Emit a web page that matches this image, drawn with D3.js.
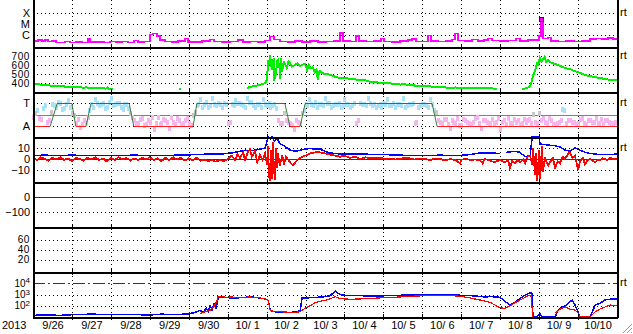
<!DOCTYPE html>
<html>
<head>
<meta charset="utf-8">
<script src="https://cdn.jsdelivr.net/npm/d3@7"></script>
<style>
body { margin: 0; background: #fff; }
svg { display: block; font-family: "Liberation Sans", Arial, sans-serif; }
</style>
</head>
<body>
<script>
// ---- données (jour = jours depuis 2013-09-26 00:00)
const yearLabel = '2013'
const dayLabels = ['9/26', '9/27', '9/28', '9/29', '9/30', '10/ 1', '10/ 2', '10/ 3', '10/ 4', '10/ 5', '10/ 6', '10/ 7', '10/ 8', '10/ 9', '10/10']

const xrayTickVals = [1e-4, 1e-5, 1e-6]
const xrayTickNames = ['X', 'M', 'C']
const speedTicks = [700, 600, 500, 400]
const sectorTickVals = [315, 135]
const sectorTickNames = ['T', 'A']
const imfTicks = [10, 0, -10]
const dstTicks = [0, -100]
const p6Ticks = [60, 40, 20]
const elecTicks = [1e4, 1e3, 1e2]

const xray = [[0, 3.0e-7], [0.13, 3.5e-7], [0.23, 2.8e-7], [0.31, 3.5e-7], [0.39, 2.5e-7], [0.49, 3.0e-7], [0.59, 2.0e-7], [0.69, 2.1e-7], [0.82, 2.6e-7], [0.95, 2.0e-7],
  [1.1, 2.3e-7], [1.26, 2.0e-7], [1.41, 4.5e-7], [1.46, 2.2e-7], [1.62, 2.4e-7], [1.82, 2.0e-7], [1.98, 2.6e-7], [2.13, 2.2e-7], [2.29, 2.5e-7], [2.44, 2.0e-7],
  [2.59, 3.2e-7], [2.7, 2.2e-7], [2.85, 2.6e-7], [3.0, 1.1e-6], [3.08, 1.3e-6], [3.18, 8e-7], [3.26, 3.5e-7], [3.39, 2.5e-7], [3.57, 2.2e-7], [3.72, 3.0e-7],
  [3.9, 5e-7], [3.98, 2.4e-7], [4.16, 2.2e-7], [4.34, 2.8e-7], [4.55, 4e-7], [4.65, 2.5e-7], [4.85, 2.2e-7], [5.06, 2.6e-7], [5.27, 3.5e-7], [5.39, 2.3e-7],
  [5.57, 2.6e-7], [5.78, 2.3e-7], [5.96, 3.2e-7], [6.09, 7e-7], [6.19, 4e-7], [6.34, 2.6e-7], [6.55, 2.3e-7], [6.73, 3.0e-7], [6.91, 2.4e-7], [7.12, 2.8e-7],
  [7.32, 2.3e-7], [7.53, 2.6e-7], [7.73, 3.0e-7], [7.89, 1.5e-6], [7.96, 3.0e-7], [8.14, 2.6e-7], [8.3, 8e-7], [8.37, 3.0e-7], [8.55, 2.5e-7], [8.76, 2.8e-7],
  [8.94, 5e-7], [9.02, 2.6e-7], [9.22, 2.4e-7], [9.43, 2.8e-7], [9.63, 3.5e-7], [9.74, 4.5e-7], [9.84, 2.6e-7], [10.04, 2.5e-7], [10.15, 9e-7], [10.22, 3.0e-7],
  [10.4, 2.6e-7], [10.61, 3.0e-7], [10.76, 4e-7], [10.84, 1.3e-6], [10.92, 3.2e-7], [11.1, 2.8e-7], [11.28, 4e-7], [11.43, 3.0e-7], [11.59, 3.4e-7], [11.69, 5e-7],
  [11.79, 3.2e-7], [12.0, 2.8e-7], [12.2, 3.2e-7], [12.41, 5e-7], [12.51, 3.0e-7], [12.71, 3.4e-7], [12.92, 3.6e-7], [13.0, 8e-7], [13.05, 2.8e-5], [13.1, 5e-7],
  [13.23, 6e-7], [13.31, 3.0e-7], [13.49, 2.6e-7], [13.69, 3.0e-7], [13.9, 2.7e-7], [14.1, 3.0e-7], [14.31, 4.5e-7], [14.46, 5e-7], [14.62, 4.2e-7], [14.77, 5.2e-7],
  [14.9, 4.5e-7], [15.0, 4.8e-7]]
const flares = [[13.05, 2.8e-5]]

const speed = [[0, 390], [0.07, 388], [0.14, 386], [0.22, 381], [0.29, 379], [0.36, 376], [0.43, 372], [0.5, 371], [0.58, 366], [0.65, 369], [0.72, 361],
  [0.79, 363], [0.86, 356], [0.94, 359], [1.01, 352], [1.08, 357], [1.15, 350], [1.22, 354], [1.3, 347], [1.37, 352], [1.44, 345], [1.51, 349], [1.58, 342],
  [1.66, 348], [1.73, 340], [1.8, 344], [1.87, 337], [1.91, 352], [1.94, 336], [2.0, 334], [2.06, 330], [2.08, null], [3.75, 332], [3.8, 334], [3.85, null],
  [5.5, 344], [5.57, 355], [5.7, 367], [5.83, 378], [5.96, 400], [6.01, 433], [6.04, 655], [6.06, 600], [6.09, 711], [6.11, 620], [6.14, 544], [6.16, 650],
  [6.19, 678], [6.2, 420], [6.22, 560], [6.24, 489], [6.27, 640], [6.29, 655], [6.32, 590], [6.34, 611], [6.35, 450], [6.37, 680], [6.4, 522], [6.42, 600],
  [6.45, 633], [6.5, 590], [6.52, 567], [6.56, 640], [6.6, 622], [6.65, 585], [6.73, 600], [6.8, 620], [6.86, 589], [6.92, 605], [6.99, 611], [7.04, 544],
  [7.08, 600], [7.12, 567], [7.18, 575], [7.24, 522], [7.28, 545], [7.32, 433], [7.34, 520], [7.37, 530], [7.43, 510], [7.5, 500], [7.56, 505], [7.63, 489],
  [7.7, 480], [7.76, 470], [7.89, 455], [8.0, 460], [8.14, 444], [8.27, 440], [8.4, 433], [8.5, 436], [8.66, 411], [8.78, 415], [8.91, 400], [9.05, 398],
  [9.17, 395], [9.3, 392], [9.43, 383], [9.55, 385], [9.68, 378], [9.8, 372], [9.94, 367], [10.07, 365], [10.2, 362], [10.32, 358], [10.45, 355], [10.6, 350],
  [10.71, 344], [10.85, 350], [10.97, 349], [11.1, 346], [11.23, 344], [11.35, 340], [11.48, 339], [11.6, 342], [11.74, 344], [11.85, 336], [11.92, 333],
  [11.95, null], [12.56, 333], [12.69, 344], [12.77, 367], [12.82, 433], [12.84, 478], [12.9, 544], [12.95, 633], [12.97, 589], [13.02, 678], [13.06, 640],
  [13.1, 667], [13.14, 690], [13.18, 633], [13.23, 655], [13.28, 633], [13.34, 620], [13.41, 611], [13.48, 600], [13.54, 589], [13.6, 578], [13.67, 567],
  [13.73, 560], [13.79, 556], [13.86, 540], [13.92, 533], [14.0, 520], [14.05, 511], [14.12, 500], [14.18, 489], [14.25, 482], [14.31, 478], [14.38, 470],
  [14.44, 467], [14.5, 460], [14.56, 455], [14.63, 450], [14.69, 444], [14.76, 440], [14.82, 433], [14.9, 436], [15.0, 433]]

// secteur IMF (T = 315, A = 135)
const sector = [[0, 135], [0.44, 135], [0.62, 315], [1.0, 315], [1.1, 135], [1.36, 135], [1.49, 315], [2.47, 315], [2.59, 135], [4.11, 135], [4.21, 315],
  [6.47, 315], [6.6, 135], [6.86, 135], [6.99, 315], [10.25, 315], [10.38, 135], [15.0, 135]]
// angle phi, deux mesures tous les 0.1 jour
const phi = [200, 250, 180, 290, 170, 300, 280, 310, 270, 330, 230, 150, 120, 170, 200,
  300, 340, 290, 310, 280, 350, 300, 310, 260, 300, 230,
  170, 150, 190, 140, 160, 100, 200, 150, 170, 110, 160, 190, 140, 170, 150, 210,
  290, 340, 300, 280, 350, 290, 300, 310, 150, 300, 330, 310, 290, 350, 320, 280, 300, 340, 290, 280, 300, 170, 150,
  170, 150, 100, 160, 230,
  300, 340, 290, 280, 300, 350, 310, 290, 300, 280, 340, 300, 290, 150, 310, 300, 350, 290, 280, 300,
  310, 340, 290, 280, 300, 350, 290, 300, 150, 280, 300, 290, 340, 250,
  170, 150, 180, 110, 160, 190, 130, 170, 150, 160, 200, 110, 170, 150, 180, 160, 100, 170, 190, 150,
  160, 140, 180, 170, 150, 160, 230, 190, 150, 170, 140, 160, 260, 150, 170, 160, 150, 190, 140, 170, 160, 150, 180, 170, 160, 150]
const phi2 = [230, 190, 270, 160, 240, 290, 320, 260, 300, 280, 210, 180, 140, 160, 250,
  280, 310, 300, 270, 320, 290, 310, 280, 300, 270, 200,
  150, 180, 130, 170, 200, 150, 140, 180, 160, 200, 140, 170, 150, 190, 130, 240,
  300, 280, 320, 290, 300, 310, 280, 300, 160, 290, 310, 300, 280, 320, 290, 300, 280, 300, 310, 290, 270, 150, 230,
  160, 130, 170, 150, 250,
  290, 300, 320, 300, 290, 310, 280, 300, 310, 290, 300, 280, 310, 170, 300, 290, 310, 300, 290, 280,
  300, 290, 310, 300, 290, 280, 300, 310, 160, 290, 300, 280, 300, 240,
  160, 180, 140, 170, 150, 130, 180, 160, 140, 190, 150, 170, 160, 140, 150, 190, 160, 140, 150, 180,
  170, 150, 160, 180, 220, 150, 170, 160, 190, 140, 150, 170, 250, 170, 160, 140, 180, 150, 170, 160, 190, 150, 140, 170, 150, 160]

const bt = [[0, 3], [0.3, 3.5], [0.6, 3], [1.0, 3.5], [1.4, 3], [1.8, 3.2], [2.2, 3], [2.6, 3.5], [3.0, 3], [3.4, 3.2], [3.8, 3.5], [4.2, 4], [4.55, 4.5],
  [4.8, 4.5], [5.01, 5], [5.19, 6], [5.32, 7], [5.45, 8], [5.57, 7.5], [5.7, 8], [5.83, 9], [5.96, 10], [6.04, 20], [6.1, 18], [6.14, 20], [6.2, 16], [6.27, 19],
  [6.34, 14], [6.4, 13], [6.45, 12], [6.6, 8], [6.76, 7], [6.86, 8], [6.99, 9], [7.12, 9.5], [7.24, 9], [7.37, 9], [7.5, 7], [7.63, 5.5], [7.89, 4.5], [8.14, 4.5],
  [8.4, 4.5], [8.66, 4.2], [8.91, 4], [9.17, 3.8], [9.43, 3.5], [9.68, 3], [9.94, 3], [10.2, 3], [10.45, 3.5], [10.71, 3], [10.97, 3.2], [11.23, 4], [11.48, 5.5],
  [11.74, 5.5], [12.0, 5], [12.05, null], [12.15, 6], [12.25, 6.5], [12.38, 7], [12.51, 6], [12.64, 2], [12.77, 3], [12.82, 20], [13.0, 20], [13.02, 14], [13.1, 13],
  [13.15, 13], [13.28, 12.5], [13.41, 12], [13.54, 11], [13.67, 8], [13.79, 7], [13.92, 10], [14.05, 8], [14.18, 6], [14.31, 5], [14.44, 4.5], [14.56, 4],
  [14.69, 4], [14.82, 4], [15.0, 4.5]]
const bz = [[0, 1], [0.1, -1], [0.2, 1.5], [0.3, 0], [0.4, -1.5], [0.5, 1], [0.6, -0.5], [0.7, 1.5], [0.8, -1], [0.9, 0.5], [1.0, -2], [1.1, 1], [1.2, 0],
  [1.3, -1.5], [1.4, 1], [1.5, -0.5], [1.6, 1.5], [1.7, -1], [1.8, 0.5], [1.9, -2.5], [2.0, 1], [2.1, -1], [2.2, 1.5], [2.3, -0.5], [2.4, 1], [2.5, -1.5],
  [2.6, 0.5], [2.7, -1], [2.8, 1], [2.9, -0.5], [3.0, 1.5], [3.1, -1], [3.2, 0.5], [3.3, -2], [3.4, 1], [3.5, -1], [3.6, 1.5], [3.7, -0.5], [3.8, 1], [3.9, -1.5],
  [4.0, 0.5], [4.1, -1], [4.2, 1], [4.3, -1.5], [4.4, -0.5], [4.5, -2], [4.6, -1], [4.7, -2.5], [4.8, -1], [4.9, -2], [5.0, 0], [5.1, 3], [5.19, -1], [5.25, 4],
  [5.32, 1], [5.4, 6], [5.45, -2], [5.5, 5], [5.57, 9], [5.62, 2], [5.7, 7], [5.76, -3], [5.83, 4], [5.9, -1], [5.96, 5], [6.01, -5], [6.04, 12], [6.06, -15],
  [6.09, -20], [6.11, 8], [6.14, -18], [6.16, 15], [6.19, -10], [6.22, -19], [6.24, 10], [6.27, -8], [6.29, 5], [6.34, -6], [6.4, 3], [6.45, -4], [6.5, 2],
  [6.6, -3], [6.68, -6], [6.76, -2], [6.86, 1], [6.99, 3], [7.12, 5], [7.24, 6], [7.37, 6], [7.5, 5], [7.63, 4], [7.76, 3], [7.89, 2], [8.0, 3], [8.14, 1],
  [8.27, 2], [8.4, 0], [8.55, 1.5], [8.66, 0.5], [8.8, 1], [8.91, 1], [9.05, 0], [9.17, 0.5], [9.3, -0.5], [9.43, 0], [9.55, 1], [9.68, 0.5], [9.8, -0.5],
  [9.94, 0.5], [10.07, 0], [10.2, -1], [10.32, 0.5], [10.45, 0], [10.6, -1.5], [10.71, 0], [10.85, -1], [10.97, -4], [11.0, -1], [11.1, 0.5], [11.23, -1],
  [11.35, -0.5], [11.48, -1], [11.55, -4], [11.6, 0], [11.74, -1.5], [11.85, -3], [12.0, -1], [12.12, -3], [12.2, -1], [12.25, -8], [12.3, -2], [12.38, -4],
  [12.45, -1], [12.51, -3], [12.6, 0], [12.64, -4], [12.7, 2], [12.77, 3], [12.82, -5], [12.84, 10], [12.9, -15], [12.92, 5], [12.95, -20], [12.97, -10],
  [13.0, 8], [13.02, -18], [13.05, -5], [13.07, 12], [13.1, -12], [13.15, 2], [13.2, -4], [13.23, -6], [13.28, -3], [13.35, 1], [13.41, -8], [13.48, -2],
  [13.54, -4], [13.6, 2], [13.67, 0], [13.73, 4], [13.79, 6], [13.85, 1], [13.92, 3], [14.0, -10], [14.05, -2], [14.12, 1], [14.18, -5], [14.25, -1],
  [14.31, 0], [14.38, -2], [14.44, -3], [14.5, -1], [14.56, -1], [14.63, 0.5], [14.69, 0], [14.76, -1], [14.82, 1], [14.9, 0], [15.0, 0]]

const elecBlue = [[0, 14], [0.3, 15], [0.7, 14], [1.0, 16], [1.5, 18], [2.0, 16], [2.5, 17], [3.0, 15], [3.3, 18], [3.6, 16], [3.9, 18], [4.03, 20], [4.16, 25],
  [4.29, 40], [4.37, 25], [4.45, 60], [4.5, 30], [4.55, 100], [4.6, 40], [4.65, 150], [4.7, 60], [4.75, 400], [4.8, 600], [4.93, 550], [5.06, 500], [5.19, 480],
  [5.32, 520], [5.45, 560], [5.57, 620], [5.7, 560], [5.83, 480], [5.96, 400], [6.04, 300], [6.09, 50], [6.14, 30], [6.34, 28], [6.6, 25], [6.78, 30], [6.86, 35],
  [6.91, 500], [6.99, 480], [7.12, 520], [7.24, 550], [7.37, 580], [7.5, 650], [7.63, 750], [7.76, 2000], [7.84, 1200], [7.94, 900], [8.14, 800], [8.4, 780],
  [8.66, 750], [8.91, 760], [9.17, 800], [9.43, 850], [9.68, 900], [9.94, 950], [10.2, 1000], [10.45, 900], [10.71, 950], [10.97, 850], [11.23, 800],
  [11.43, 700], [11.61, 600], [11.74, 650], [11.92, 600], [12.0, 550], [12.12, 250], [12.25, 120], [12.38, 200], [12.51, 450], [12.64, 900], [12.77, 1400],
  [12.82, 1300], [12.84, 12], [12.92, 10], [13.02, 20], [13.07, 10], [13.41, 10], [13.49, 42], [13.6, 80], [13.7, 117], [13.85, 325], [13.92, 117], [14.0, 28],
  [14.05, 10], [14.31, 10], [14.44, 117], [14.56, 160], [14.69, 325], [14.82, 380], [15.0, 400]]
const elecRed = [[4.29, 20], [4.55, 40], [4.65, 80], [4.73, 300], [4.75, 650], [4.85, 700], [4.96, 550], [5.06, 600], [5.32, 550], [5.57, 600], [5.7, 550],
  [5.83, 500], [5.96, 420], [6.04, 300], [6.09, 40], [6.22, 30], [6.47, 28], [6.73, 25], [6.86, 30], [6.99, 60], [7.12, 100], [7.24, 180], [7.37, 250],
  [7.5, 300], [7.63, 400], [7.76, 650], [7.84, 500], [7.89, 420], [8.14, 380], [8.4, 400], [8.66, 450], [8.91, 500], [9.17, 550], [9.43, 600], [9.68, 700],
  [9.94, 750], [10.2, 800], [10.45, 780], [10.71, 800], [10.97, 700], [11.23, 500], [11.35, 400], [11.48, 325], [11.74, 200], [12.0, 65], [12.12, 60],
  [12.25, 100], [12.51, 325], [12.71, 740], [12.79, 900], [12.84, 10], [12.86, null], [13.41, 23], [13.54, 51], [13.67, 77], [13.79, 51], [13.92, 42],
  [14.0, 23], [14.05, 10], [14.31, 10], [14.44, 28], [14.56, 51], [14.69, 77], [14.82, 117], [14.95, 100], [15.0, 100]]

// ---- mise en page
const W = 633, H = 334
const left = 33, right = 617
const darkRed = '#b00000'
const fs = 10

let svg = d3.select('body').append('svg')
  .attr('width', W).attr('height', H)
  .style('shape-rendering', 'crispEdges')

svg.append('rect').attr('width', W).attr('height', H).attr('fill', '#fff')

let x = d3.scaleLinear().domain([0, dayLabels.length]).range([left, right])

// les 7 panneaux
let yXray = d3.scaleLog().domain([10 ** -7.09, 10 ** -2.82]).range([47, 0]).clamp(true)
let ySpeed = d3.scaleLinear().domain([300, 800]).range([92, 47]).clamp(true)
let yPhi = d3.scaleLinear().domain([45, 405]).range([137, 92]).clamp(true)
let yImf = d3.scaleLinear().domain([-21, 20]).range([182, 137]).clamp(true)
let yDst = d3.scaleLinear().domain([-200, 100]).range([227, 182]).clamp(true)
let yP6 = d3.scaleLinear().domain([-5, 85]).range([272, 227]).clamp(true)
let yElec = d3.scaleLog().domain([10, 1e5]).range([317, 272]).clamp(true)

const borders = [47, 92, 137, 182, 227, 272, 317]

// grille pointillée horizontale
function hDots(scale, vals, color, dash) {
  svg.append('g').selectAll('line').data(vals).join('line')
    .attr('x1', left).attr('x2', right)
    .attr('y1', d => Math.round(scale(d)) + 0.5).attr('y2', d => Math.round(scale(d)) + 0.5)
    .attr('stroke', color || '#000')
    .attr('stroke-dasharray', dash === undefined ? '1,3' : dash)
}
hDots(yXray, xrayTickVals)
hDots(ySpeed, speedTicks)
hDots(yPhi, sectorTickVals)
hDots(yPhi, [225], '#808080', null)
hDots(yImf, [10, -10])
hDots(yImf, [0], darkRed, null)
hDots(yDst, [-100])
hDots(yDst, [0], darkRed, null)
hDots(yP6, p6Ticks)
hDots(yElec, [1e3, 1e2])
hDots(yElec, [1e4], darkRed, '12,3,2,3')

// grille verticale (jours)
const dayLines = d3.range(1, dayLabels.length)
svg.append('g').selectAll('line').data(dayLines).join('line')
  .attr('x1', d => Math.round(x(d)) + 0.5).attr('x2', d => Math.round(x(d)) + 0.5)
  .attr('y1', 0).attr('y2', 317)
  .attr('stroke', '#000').attr('stroke-dasharray', '1,3')

// ---- rayons X
svg.append('path').datum(xray)
  .attr('fill', 'none').attr('stroke', '#ff00ff').attr('stroke-width', 1.5)
  .attr('d', d3.line().curve(d3.curveStepAfter).x(d => x(d[0])).y(d => yXray(d[1])))
svg.append('g').selectAll('rect').data(flares).join('rect')
  .attr('x', d => x(d[0]) - 2).attr('y', d => yXray(d[1]) - 2)
  .attr('width', 4).attr('height', 4)
  .attr('fill', 'none').attr('stroke', '#0000cc')

// ---- vitesse du vent solaire
svg.append('path').datum(speed)
  .attr('fill', 'none').attr('stroke', '#00ee00').attr('stroke-width', 2)
  .attr('d', d3.line().defined(d => d[1] !== null).x(d => x(d[0])).y(d => ySpeed(d[1])))

// ---- secteur / phi
const phiColor = v => v > 245 ? '#a8e2fa' : (v < 205 ? '#f6b4ee' : '#c8c8c8')
function phiDots(vals, offset) {
  svg.append('g').selectAll('rect').data(vals).join('rect')
    .attr('x', (d, i) => x(i * 0.1 + offset) - 1).attr('y', d => yPhi(d) - 3)
    .attr('width', 3).attr('height', 5)
    .attr('fill', d => phiColor(d))
}
phiDots(phi, 0)
phiDots(phi2, 0.05)

for (let i = 1; i < sector.length; i++) {
  let a = sector[i - 1], b = sector[i]
  let col = a[1] !== b[1] ? '#3c7a3c' : (a[1] > 225 ? '#3050ff' : '#ff2020')
  svg.append('line')
    .attr('x1', x(a[0])).attr('y1', Math.round(yPhi(a[1])) + 0.5)
    .attr('x2', x(b[0])).attr('y2', Math.round(yPhi(b[1])) + 0.5)
    .attr('stroke', col)
    .style('shape-rendering', a[1] !== b[1] ? 'auto' : 'crispEdges')
}

// ---- champ magnétique
svg.append('path').datum(bt)
  .attr('fill', 'none').attr('stroke', '#0000ff').attr('stroke-width', 1.5)
  .attr('d', d3.line().defined(d => d[1] !== null).x(d => x(d[0])).y(d => yImf(d[1])))
svg.append('path').datum(bz)
  .attr('fill', 'none').attr('stroke', '#ff0000').attr('stroke-width', 1.8)
  .attr('d', d3.line().x(d => x(d[0])).y(d => yImf(d[1])))

// ---- électrons
svg.append('path').datum(elecBlue)
  .attr('fill', 'none').attr('stroke', '#0000ff').attr('stroke-width', 1.5)
  .attr('d', d3.line().x(d => x(d[0])).y(d => yElec(d[1])))
svg.append('path').datum(elecRed)
  .attr('fill', 'none').attr('stroke', '#ff0000').attr('stroke-width', 1.2)
  .attr('d', d3.line().defined(d => d[1] !== null).x(d => x(d[0])).y(d => yElec(d[1])))

// ---- cadres
svg.append('g').selectAll('line').data(borders).join('line')
  .attr('x1', left).attr('x2', right + 1)
  .attr('y1', d => d + 0.5).attr('y2', d => d + 0.5)
  .attr('stroke', '#000').attr('stroke-width', 2)
svg.append('line').attr('x1', left + 0.5).attr('x2', left + 0.5).attr('y1', 0).attr('y2', 318).attr('stroke', '#000').attr('stroke-width', 2)
svg.append('line').attr('x1', right + 0.5).attr('x2', right + 0.5).attr('y1', 0).attr('y2', 318).attr('stroke', '#000').attr('stroke-width', 2)

// petites graduations aux bords des panneaux
borders.forEach(b => {
  svg.append('g').selectAll('line').data(dayLines).join('line')
    .attr('x1', d => Math.round(x(d)) + 0.5).attr('x2', d => Math.round(x(d)) + 0.5)
    .attr('y1', b - 3).attr('y2', b + 3)
    .attr('stroke', '#000')
})

// ---- étiquettes
function leftAxis(scale, vals, fmt) {
  let g = svg.append('g').attr('transform', `translate(${left},0)`)
    .call(d3.axisLeft(scale).tickValues(vals).tickSize(0).tickPadding(3).tickFormat(fmt))
  g.select('.domain').remove()
  g.selectAll('text').attr('font-size', fs + 1).attr('font-family', null).attr('fill', '#000')
  return g
}
leftAxis(yXray, xrayTickVals, (d, i) => xrayTickNames[i])
leftAxis(ySpeed, speedTicks, d3.format('d'))
  .selectAll('text').attr('font-size', fs).attr('letter-spacing', 0.6)
leftAxis(yPhi, sectorTickVals, (d, i) => sectorTickNames[i])
leftAxis(yImf, imfTicks, d3.format('d'))
leftAxis(yDst, dstTicks, d3.format('d'))
leftAxis(yP6, p6Ticks, d3.format('d'))
  .selectAll('text').attr('font-size', fs).attr('letter-spacing', 0.6)
let eAx = leftAxis(yElec, elecTicks, () => '')
eAx.selectAll('text').attr('font-size', fs).each(function (d) {
  let t = d3.select(this)
  t.append('tspan').text('10')
  t.append('tspan').attr('dy', '-0.45em').attr('font-size', 8).text(Math.round(Math.log10(d)))
})

// "rt" à droite
const rtMarks = [[yXray, 1e-4], [ySpeed, 700], [yPhi, 315], [yImf, 10], [yElec, 1e4]]
svg.append('g').selectAll('text').data(rtMarks).join('text')
  .attr('x', 620).attr('y', d => d[0](d[1]) + 3)
  .attr('font-size', fs + 1).text('rt')

// axe des dates
let xAx = svg.append('g').attr('transform', 'translate(0,317)')
  .call(d3.axisBottom(x).tickValues(d3.range(dayLabels.length).map(i => i + 0.5))
    .tickSize(0).tickPadding(4).tickFormat((d, i) => dayLabels[i]))
xAx.select('.domain').remove()
xAx.selectAll('text').attr('font-size', fs + 1).attr('font-family', null).attr('fill', '#000')
svg.append('text').attr('x', 2).attr('y', 329).attr('font-size', fs + 1).text(yearLabel)

// poignée en bas à droite
svg.append('g').selectAll('line').data([0, 4, 8]).join('line')
  .attr('x1', d => 623 + d).attr('y1', 333)
  .attr('x2', 632).attr('y2', d => 324 + d)
  .attr('stroke', '#999').style('shape-rendering', 'auto')
</script>
</body>
</html>
